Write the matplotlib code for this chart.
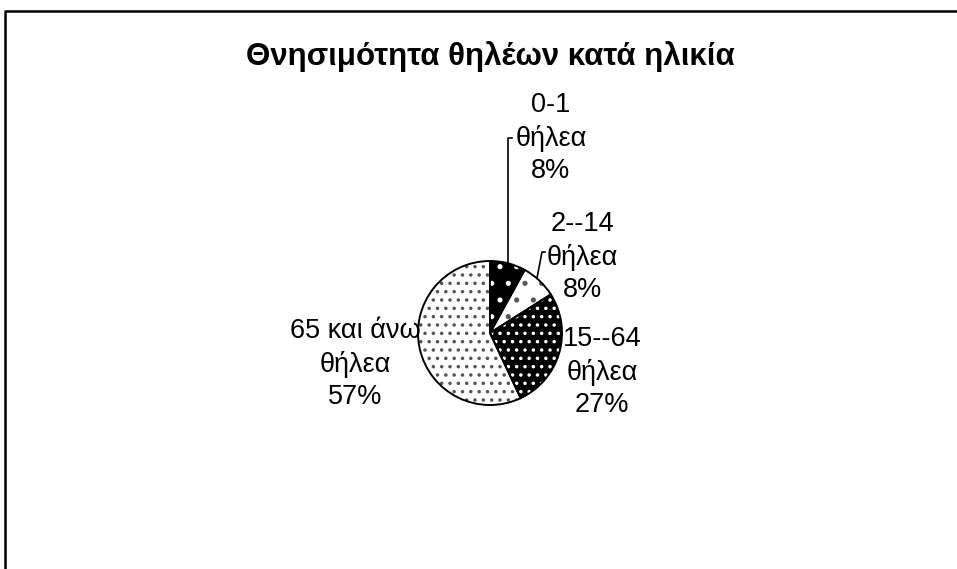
import matplotlib
matplotlib.use("Agg")
import matplotlib.pyplot as plt
from matplotlib.lines import Line2D

# data
labels = ["0-1\nθήλεα\n8%", "2--14\nθήλεα\n8%", "15--64\nθήλεα\n27%", "65 και άνω\nθήλεα\n57%"]
shares = [8, 8, 27, 57]
faces = ["black", "white", "black", "white"]
dots = ["white", "#555555", "white", "#555555"]
hatches = [".", ".", "..", ".."]
title = "Θνησιμότητα θηλέων κατά ηλικία"

W, H = 957, 569
plt.rcParams["font.family"] = ["Liberation Sans", "DejaVu Sans"]
plt.rcParams["hatch.linewidth"] = 1.3

fig = plt.figure(figsize=(W / 100, H / 100), dpi=100)
ax = fig.add_axes([0, 0, 1, 1])

cx, cy, r = 490, H - 333, 72

# fill + dot pattern (hatch colour comes from edgecolor)
wedges, _ = ax.pie(shares, center=(cx, cy), radius=r, startangle=90,
                   counterclock=False, frame=True)
for w, fc, dc, h in zip(wedges, faces, dots, hatches):
    w.set_facecolor(fc)
    w.set_edgecolor(dc)
    w.set_hatch(h)
    w.set_linewidth(0)
# outlines
ax.pie(shares, center=(cx, cy), radius=r, startangle=90,
       counterclock=False, frame=True,
       wedgeprops=dict(facecolor="none", edgecolor="black", linewidth=1.4))
ax.set_xlim(0, W)
ax.set_ylim(0, H)
ax.set_aspect("equal")
ax.axis("off")

# labels (pixel positions from top)
pos = [(551, 138), (582, 257), (602, 372), (355, 364)]
for lab, (x, y) in zip(labels, pos):
    ax.text(x, H - y, lab, ha="center", va="center", fontsize=19.5,
            linespacing=1.32)

# leader lines
ax.add_line(Line2D([508, 508, 512], [H - 263, H - 138, H - 138], color="black", lw=1.2))
ax.add_line(Line2D([537, 542, 545], [H - 278, H - 252, H - 252], color="black", lw=1.2))

ax.text(490, H - 57, title, ha="center", va="center", fontsize=22.5,
        fontweight="bold")

# chart frame (clipped at right/bottom)
ax.add_line(Line2D([5, 5, W], [0, H - 11, H - 11], color="black", lw=1.8))

fig.savefig("out.png", dpi=100)
